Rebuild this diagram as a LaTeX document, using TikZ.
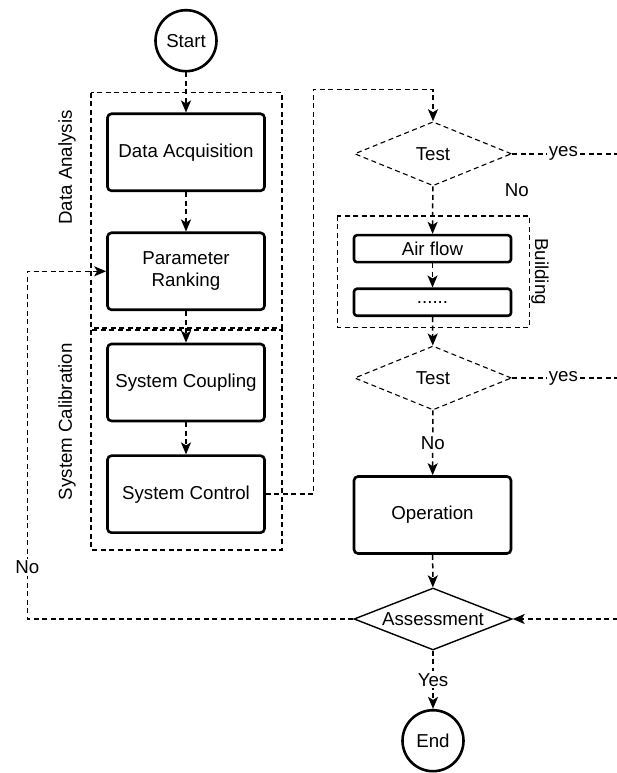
\documentclass[tikz,border=0pt]{standalone}
\usepackage{fontspec}
\setmainfont{Liberation Sans}
\usetikzlibrary{shapes.geometric,arrows.meta}

\tikzset{
  txt/.style={font=\fontsize{18.7}{22}\selectfont},
  procbox/.style={txt,draw,line width=2.6pt,rounded corners=4pt,minimum width=157pt,minimum height=77pt,align=center},
  thinbox/.style={txt,draw,line width=2.6pt,rounded corners=3pt,minimum width=157pt,minimum height=27pt,inner sep=0pt},
  term/.style={txt,draw,circle,line width=2.6pt,minimum size=61pt,inner sep=0pt},
  testnode/.style={txt,draw,diamond,aspect=2.5,dash pattern=on 5pt off 3.5pt,line width=1.1pt,minimum width=157pt,minimum height=64pt,inner sep=0pt},
  judge/.style={txt,draw,diamond,aspect=2.5,line width=1.4pt,minimum width=158pt,minimum height=62pt,inner sep=0pt},
  group/.style={draw,dash pattern=on 5pt off 3.5pt,line width=1.3pt},
  flow/.style={draw,line width=1.5pt,dash pattern=on 5pt off 3.5pt,-{Stealth[length=12pt,width=10pt,inset=3pt]}},
  lbl/.style={txt,fill=white,inner sep=2pt}
}

\begin{document}
\begin{tikzpicture}[x=1pt,y=1pt]
\useasboundingbox (0,0) rectangle (616,773);

% left column
\node[term] (start) at (186,732.3) {Start};
\node[procbox] (acq) at (186,620.7) {Data Acquisition};
\node[procbox] (rank) at (186,501.7) {Parameter\\Ranking};
\node[procbox] (coup) at (186,390.5) {System Coupling};
\node[procbox] (ctrl) at (186,278.8) {System Control};
\draw[group] (91,680.3) rectangle (282,445);
\draw[group] (91,443) rectangle (282,223);
\node[txt,rotate=90] (lblana) at (67,605.5) {Data Analysis};
\node[txt,rotate=90] (lblcal) at (67,351.3) {System Calibration};

% right column
\node[testnode] (test1) at (433,619.2) {Test};
\node[thinbox] (air) at (432.5,524.3) {Air flow};
\node[thinbox] (dots) at (432.5,470.7) {......};
\draw[group] (337.3,557) rectangle (529.3,445.3);
\node[txt,rotate=-90] (lblbld) at (540,501.3) {Building};
\node[testnode] (test2) at (433,395) {Test};
\node[procbox] (op) at (432.5,258) {Operation};
\node[judge] (assess) at (433,154) {Assessment};
\node[term] (end) at (433,32.3) {End};
\node[txt] (no1) at (516.7,583) {No};

\coordinate (loopL) at (27.3,0);
\coordinate (loopR) at (660,0);
\coordinate (up) at (313.3,683.7);

\draw[flow] (start) -- (acq);
\draw[flow] (acq) -- (rank);
\draw[flow] (rank) -- (coup);
\draw[flow] (coup) -- (ctrl);
\draw[flow] (ctrl.east) -| (up) -| (test1.north);
\draw[flow] (test1) -- (air);
\draw[flow] (air) -- (dots);
\draw[flow] (dots) -- (test2);
\draw[flow] (test2) -- node[lbl]{No} (op);
\draw[flow] (op) -- (assess);
\draw[flow] (assess) -- node[lbl]{Yes} (end);
\draw[flow] (assess.west) -| node[lbl,pos=0.574]{No} (loopL |- rank.west) -- (rank.west);
\draw[flow,-] (test1.east) -- node[lbl,pos=0.347]{yes} (test1.east -| loopR) -- (loopR |- assess.east);
\draw[flow,-] (test2.east) -- node[lbl,pos=0.347]{yes} (test2.east -| loopR);
\draw[flow] (loopR |- assess.east) -- (assess.east);
\end{tikzpicture}
\end{document}
